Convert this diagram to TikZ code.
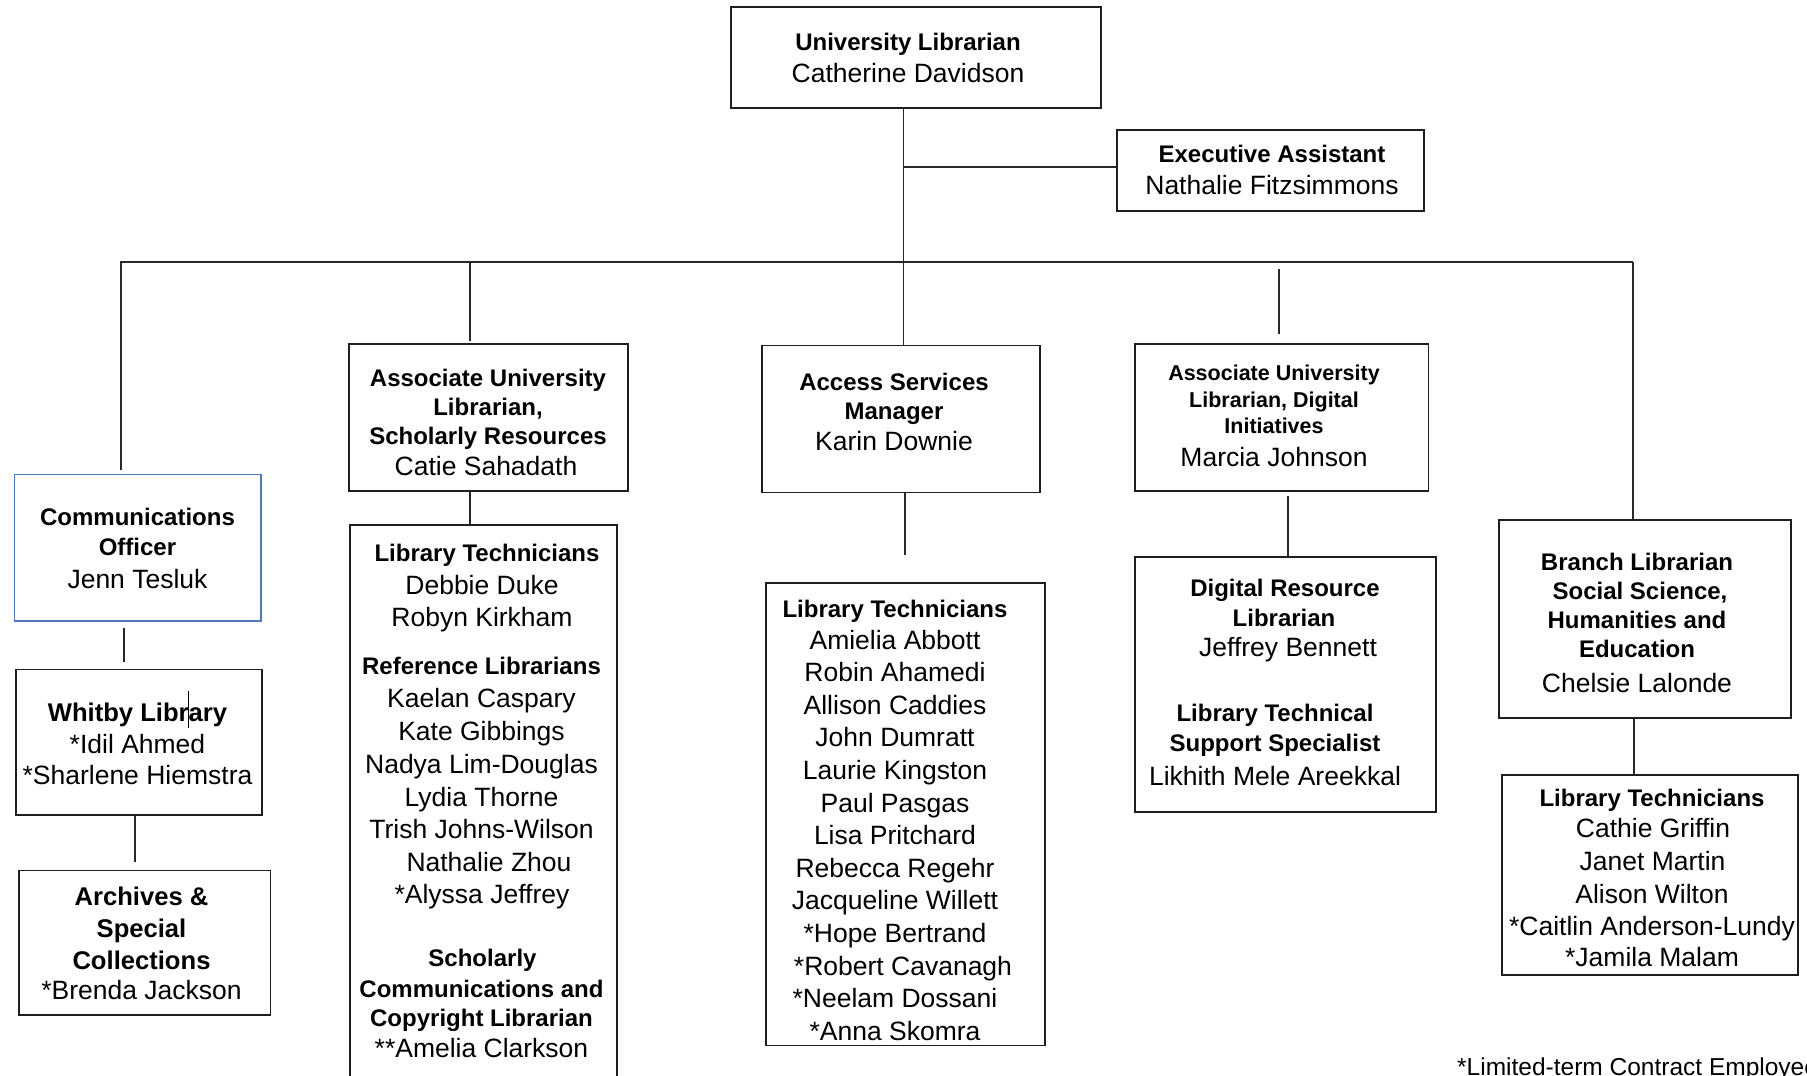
\documentclass[tikz,border=0pt]{standalone}
\usepackage{fontspec}
\setmainfont{Liberation Sans}
\definecolor{boxline}{RGB}{30,30,30}
\definecolor{connline}{RGB}{40,40,40}
\definecolor{commblue}{RGB}{79,121,185}
\newcommand\Ln[5]{\node[#2] (#1) at (#3,#4) {#5};}
\newcommand\Bx[6]{\node[#6, minimum width={#4-#2}, minimum height={#5-#3}] (#1) at ({(#2+#4)/2},{(#3+#5)/2}) {};}
\begin{document}
\begin{tikzpicture}[x=1pt,y=-1pt,
  orgbox/.style={draw=boxline, line width=1.6pt, inner sep=0pt, fill=none},
  bluebox/.style={draw=commblue, line width=1.2pt, inner sep=0pt},
  conn/.style={draw=connline, line width=1.4pt},
  hd/.style={font=\fontsize{24}{28}\selectfont\bfseries, anchor=base, inner sep=0pt},
  hds/.style={font=\fontsize{21.5}{26}\selectfont\bfseries, anchor=base, inner sep=0pt},
  hdl/.style={font=\fontsize{25.6}{30}\selectfont\bfseries, anchor=base, inner sep=0pt},
  nm/.style={font=\fontsize{26.5}{31}\selectfont, anchor=base, inner sep=0pt},
  nmf/.style={font=\fontsize{24.5}{29}\selectfont, anchor=base west, inner sep=0pt}]
\fill[white] (0,0) rectangle (1807,1076);
\useasboundingbox (0,0) rectangle (1807,1076);
\clip (0,0) rectangle (1807,1076);

% ---------- boxes ----------
\Bx{ul}{731}{7}{1101}{108}{orgbox}
\Bx{ea}{1117}{130}{1424}{211}{orgbox}
\Bx{co}{14.5}{474.5}{261}{621}{bluebox}
\Bx{wl}{16}{669.5}{262}{815}{orgbox}
\Bx{ar}{19}{870.5}{270.5}{1015}{orgbox}
\Bx{sa}{349}{344}{628}{491}{orgbox}
\Bx{st}{350}{525}{617}{1100}{orgbox}
\Bx{am}{762}{345.5}{1040}{492.5}{orgbox}
\Bx{alt}{766}{583}{1045}{1045.5}{orgbox}
\Bx{da}{1135}{344}{1428.5}{491}{orgbox}
\Bx{dr}{1135}{557}{1436}{812}{orgbox}
\Bx{bl}{1499}{520}{1791}{718}{orgbox}
\Bx{bt}{1502}{775}{1798}{975}{orgbox}

% ---------- connector coordinates ----------
\coordinate (vx) at (903.5,262);
\coordinate (ej) at (903.5,167);
\coordinate (busL) at (120,262);
\coordinate (busR) at (1633,262);
\coordinate (c1) at (121,262);
\coordinate (c2) at (470,262);
\coordinate (dtop) at (1279,269);
\coordinate (k1) at (124,0);
\coordinate (k2) at (135,0);
\coordinate (k3) at (905,0);
\coordinate (k4) at (1288,0);
\coordinate (k5) at (1634,0);
\coordinate (cur1) at (188.5,691);
\coordinate (cur2) at (188.5,728);

% ---------- connectors ----------
\draw[conn] (ul.south -| vx) -- (vx |- am.north);
\draw[conn] (ej) -- (ea.west |- ej);
\draw[conn] (busL) -- (busR);
\draw[conn, shorten >=3.5pt] (c1) -- (c1 |- co.north);
\draw[conn, shorten >=2pt] (c2) -- (c2 |- sa.north);
\draw[conn, shorten >=9.5pt] (dtop) -- (dtop |- da.north);
\draw[conn] (busR) -- (busR |- bl.north);
\draw[conn, shorten <=6pt, shorten >=6.5pt] (co.south -| k1) -- (wl.north -| k1);
\draw[conn, shorten >=8pt] (wl.south -| k2) -- (ar.north -| k2);
\draw[conn] (sa.south -| c2) -- (st.north -| c2);
\draw[conn, shorten >=27pt] (am.south -| k3) -- (alt.north -| k3);
\draw[conn, shorten <=4pt] (da.south -| k4) -- (dr.north -| k4);
\draw[conn] (bl.south -| k5) -- (bt.north -| k5);
\draw[line width=0.9pt, black] (cur1) -- (cur2);

% ---------- texts ----------
\Ln{ul1}{hd}{908}{50.5}{University Librarian}
\Ln{ul2}{nm}{908}{82.8}{Catherine Davidson}

\Ln{ea1}{hd}{1272}{162.7}{Executive Assistant}
\Ln{ea2}{nm}{1272}{194.6}{Nathalie Fitzsimmons}

\Ln{co1}{hd}{137.5}{525.5}{Communications}
\Ln{co2}{hd}{137.5}{555.5}{Officer}
\Ln{co3}{nm}{137.5}{588}{Jenn Tesluk}

\Ln{wl1}{hdl}{137.5}{721.5}{Whitby Library}
\Ln{wl2}{nm}{137.5}{753}{*Idil Ahmed}
\Ln{wl3}{nm}{137.5}{784}{*Sharlene Hiemstra}

\Ln{ar1}{hdl}{141.5}{905}{Archives \&}
\Ln{ar2}{hdl}{141.5}{937}{Special}
\Ln{ar3}{hdl}{141.5}{969}{Collections}
\Ln{ar4}{nm}{141.5}{999.5}{*Brenda Jackson}

\Ln{sa1}{hd}{488}{386}{Associate University}
\Ln{sa2}{hd}{488}{415}{Librarian,}
\Ln{sa3}{hd}{488}{444}{Scholarly Resources}
\Ln{sa4}{nm}{486}{475.5}{Catie Sahadath}

\Ln{am1}{hd}{894}{390}{Access Services}
\Ln{am2}{hd}{894}{419.5}{Manager}
\Ln{am3}{nm}{894}{450.5}{Karin Downie}

\Ln{da1}{hds}{1274}{380}{Associate University}
\Ln{da2}{hds}{1274}{407}{Librarian, Digital}
\Ln{da3}{hds}{1274}{433}{Initiatives}
\Ln{da4}{nm}{1274}{466}{Marcia Johnson}

\Ln{st1}{hd}{487}{561}{Library Technicians}
\Ln{st2}{nm}{482}{594.5}{Debbie Duke}
\Ln{st3}{nm}{482}{626.5}{Robyn Kirkham}
\Ln{st4}{hd}{481.5}{674.5}{Reference Librarians}
\Ln{st5}{nm}{481.5}{707.5}{Kaelan Caspary}
\Ln{st6}{nm}{481.5}{740.5}{Kate Gibbings}
\Ln{st7}{nm}{481.5}{773.5}{Nadya Lim-Douglas}
\Ln{st8}{nm}{481.5}{806}{Lydia Thorne}
\Ln{st9}{nm}{481.5}{838.5}{Trish Johns-Wilson}
\Ln{st10}{nm}{489}{871}{Nathalie Zhou}
\Ln{st11}{nm}{482}{903}{*Alyssa Jeffrey}
\Ln{st12}{hd}{482.5}{966.5}{Scholarly}
\Ln{st13}{hd}{481.5}{997.5}{Communications and}
\Ln{st14}{hd}{481.5}{1026}{Copyright Librarian}
\Ln{st15}{nm}{481.5}{1057.5}{**Amelia Clarkson}

\Ln{at1}{hd}{895}{617}{Library Technicians}
\Ln{at2}{nm}{895}{649}{Amielia Abbott}
\Ln{at3}{nm}{895}{681.6}{Robin Ahamedi}
\Ln{at4}{nm}{895}{714.2}{Allison Caddies}
\Ln{at5}{nm}{895}{746.8}{John Dumratt}
\Ln{at6}{nm}{895}{779.4}{Laurie Kingston}
\Ln{at7}{nm}{895}{812}{Paul Pasgas}
\Ln{at8}{nm}{895}{844.6}{Lisa Pritchard}
\Ln{at9}{nm}{895}{877.2}{Rebecca Regehr}
\Ln{at10}{nm}{895}{909.8}{Jacqueline Willett}
\Ln{at11}{nm}{895}{942.4}{*Hope Bertrand}
\Ln{at12}{nm}{903}{975}{*Robert Cavanagh}
\Ln{at13}{nm}{895}{1007.6}{*Neelam Dossani}
\Ln{at14}{nm}{895}{1040.2}{*Anna Skomra}

\Ln{dr1}{hd}{1285}{596.7}{Digital Resource}
\Ln{dr2}{hd}{1284}{626.7}{Librarian}
\Ln{dr3}{nm}{1288}{656.7}{Jeffrey Bennett}
\Ln{dr4}{hd}{1275}{721.7}{Library Technical}
\Ln{dr5}{hd}{1275}{751.7}{Support Specialist}
\Ln{dr6}{nm}{1275}{785}{Likhith Mele Areekkal}

\Ln{bl1}{hd}{1637}{570}{Branch Librarian}
\Ln{bl2}{hd}{1640}{599}{Social Science,}
\Ln{bl3}{hd}{1637}{628.3}{Humanities and}
\Ln{bl4}{hd}{1637}{657.3}{Education}
\Ln{bl5}{nm}{1637}{692.3}{Chelsie Lalonde}

\Ln{bt1}{hd}{1652}{806}{Library Technicians}
\Ln{bt2}{nm}{1653}{837.3}{Cathie Griffin}
\Ln{bt3}{nm}{1652.5}{870}{Janet Martin}
\Ln{bt4}{nm}{1652}{903.3}{Alison Wilton}
\Ln{bt5}{nm}{1652}{935}{*Caitlin Anderson-Lundy}
\Ln{bt6}{nm}{1652}{966.7}{*Jamila Malam}

\Ln{fn}{nmf}{1457}{1075}{*Limited-term Contract Employee}
\end{tikzpicture}
\end{document}
